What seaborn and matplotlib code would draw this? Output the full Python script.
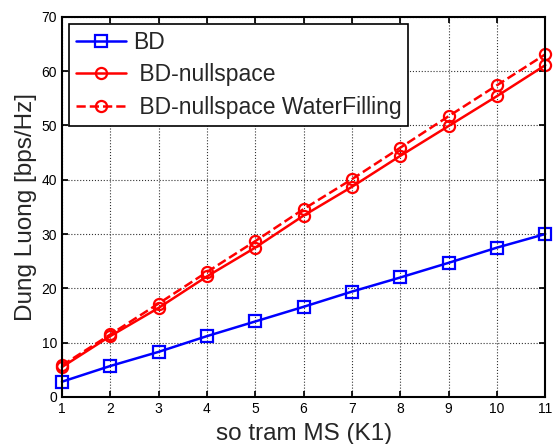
import matplotlib
matplotlib.use("Agg")
import matplotlib.pyplot as plt
import pandas as pd
import seaborn as sns

k_values = [1, 2, 3, 4, 5, 6, 7, 8, 9, 10, 11]
bd = [2.8, 5.7, 8.3, 11.2, 13.9, 16.6, 19.4, 22.0, 24.7, 27.5, 30.0]
bd_nullspace = [5.5, 11.2, 16.4, 22.2, 27.5, 33.4, 38.7, 44.4, 49.9, 55.4, 61.1]
bd_nullspace_wf = [5.8, 11.5, 17.2, 23.0, 28.7, 34.6, 40.1, 45.9, 51.7, 57.4, 63.1]

series_labels = ["BD", " BD-nullspace", " BD-nullspace WaterFilling"]
x_ticks = list(range(1, 12))
y_ticks = list(range(0, 71, 10))

sns.set_theme(style="white")
plt.rcParams["font.family"] = ["Liberation Sans", "DejaVu Sans"]

df = pd.DataFrame({
	"k": k_values * 3,
	"value": bd + bd_nullspace + bd_nullspace_wf,
	"series": [series_labels[0]] * 11 + [series_labels[1]] * 11 + [series_labels[2]] * 11,
})

fig = plt.figure(figsize=(5.53, 4.44), dpi=100)
ax = fig.add_axes([0.112, 0.106, 0.874, 0.856])

styles = [
	("blue", "-", "s"),
	("red", "-", "o"),
	("red", "--", "o"),
]
for name, (color, ls, marker) in zip(series_labels, styles):
	sub = df[df["series"] == name]
	sns.lineplot(
		data=sub, x="k", y="value", ax=ax, color=color, linestyle=ls,
		marker=marker, markersize=8, markerfacecolor="none",
		markeredgecolor=color, markeredgewidth=1.6, linewidth=1.8,
		label=name, clip_on=False,
	)

ax.set_xlim(1, 11)
ax.set_ylim(0, 70)
ax.set_xticks(x_ticks)
ax.set_yticks(y_ticks)
ax.grid(True, color="#333333", linestyle=":", linewidth=0.8)
ax.tick_params(direction="in", length=4, labelsize=10, colors="black",
	top=True, right=True, bottom=True, left=True)
for spine in ax.spines.values():
	spine.set_color("black")
	spine.set_linewidth(1.5)

ax.set_xlabel("so tram MS (K1)", fontsize=17.5, labelpad=5)
ax.set_ylabel("Dung Luong [bps/Hz]", fontsize=17.5, labelpad=3)

leg = ax.legend(loc="upper left", fontsize=16.5, frameon=True, fancybox=False,
	edgecolor="black", framealpha=1, borderaxespad=0.3, handlelength=2.2,
	labelspacing=0.42, borderpad=0.3, handletextpad=0.3)
leg.get_frame().set_linewidth(1.2)

fig.savefig("out.png", dpi=100)
plt.close(fig)
